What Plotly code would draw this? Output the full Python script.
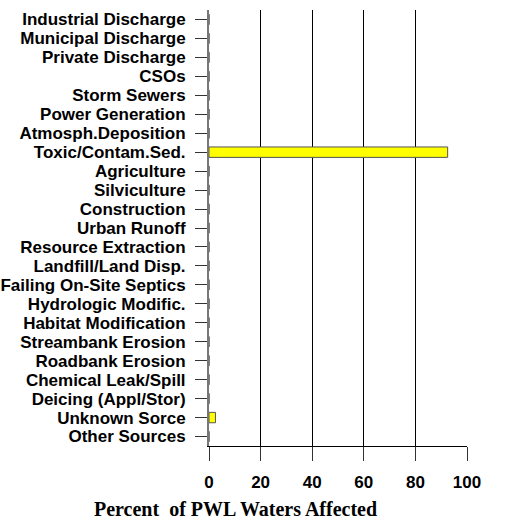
import plotly.graph_objects as go

categories = ["Industrial Discharge", "Municipal Discharge", "Private Discharge", "CSOs",
              "Storm Sewers", "Power Generation", "Atmosph.Deposition", "Toxic/Contam.Sed.",
              "Agriculture", "Silviculture", "Construction", "Urban Runoff",
              "Resource Extraction", "Landfill/Land Disp.", "Failing On-Site Septics",
              "Hydrologic Modific.", "Habitat Modification", "Streambank Erosion",
              "Roadbank Erosion", "Chemical Leak/Spill", "Deicing (Appl/Stor)",
              "Unknown Sorce", "Other Sources"]
values = [0, 0, 0, 0, 0, 0, 0, 92.5, 0, 0, 0, 0, 0, 0, 0, 0, 0, 0, 0, 0, 0, 2.5, 0]
x_ticks = [0, 20, 40, 60, 80, 100]
x_title = "Percent  of PWL Waters Affected"

fig = go.Figure(go.Bar(
    y=categories, x=values, orientation="h",
    marker=dict(color="#ffff00", line=dict(color="#555555", width=1)),
    width=0.55,
))

fig.update_layout(
    width=509, height=524,
    margin=dict(l=209, r=42, t=10, b=78),
    plot_bgcolor="white", paper_bgcolor="white",
    showlegend=False,
    xaxis=dict(range=[0, 100], tickvals=x_ticks, showgrid=True, gridcolor="black", gridwidth=1,
               showline=True, linecolor="black", linewidth=1, ticks="outside", ticklen=14,
               tickcolor="#333333", automargin=False,
               tickfont=dict(family="Liberation Sans, Arial", size=17, color="black", weight="bold"),
               zeroline=False, ticklabelstandoff=7),
    yaxis=dict(categoryorder="array", categoryarray=categories[::-1], range=[-0.5, 22.5],
               tickmode="array", tickvals=categories, ticktext=categories, automargin=False,
               showgrid=False, showline=True, linecolor="#777777", linewidth=2, ticks="outside",
               ticklen=12, tickcolor="#333333",
               tickfont=dict(family="Liberation Sans, Arial", size=17, color="black", weight="bold"),
               ticklabelstandoff=6),
    annotations=[dict(text="<b>" + x_title + "</b>", xref="paper", yref="paper",
                      x=0.101, y=-0.174, xanchor="center", yanchor="bottom", showarrow=False,
                      font=dict(family="Liberation Serif, Times New Roman, serif", size=20, color="black"))],
)

fig.write_html("out.html", config={"displayModeBar": False},
               post_script="document.body.style.margin='0';")
